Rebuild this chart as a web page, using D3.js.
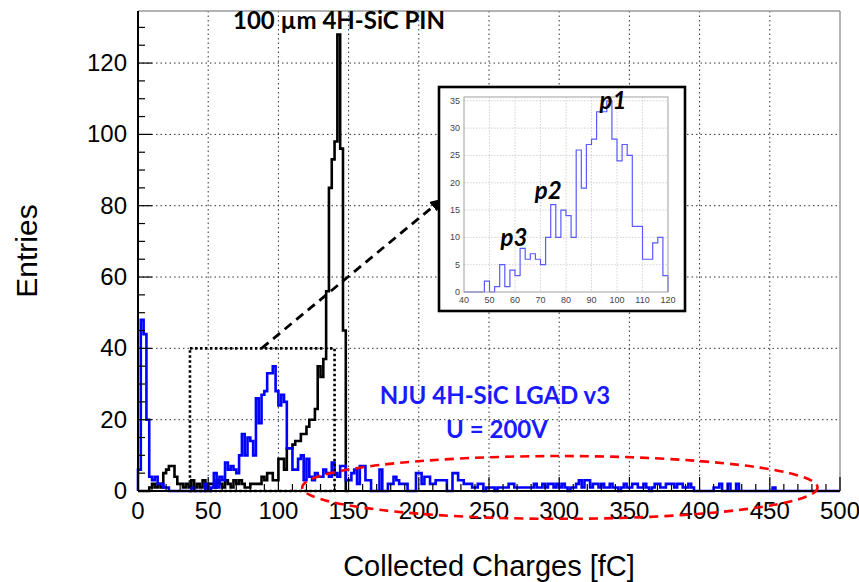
<!DOCTYPE html>
<html>
<head>
<meta charset="utf-8">
<script src="https://cdn.jsdelivr.net/npm/d3@7"></script>
<style>
  body { margin: 0; background: #fff; }
  svg { display: block; }
</style>
</head>
<body>
<div id="chart"></div>
<script>
// bin width of both histograms, in fC
const binWidth = 2;

// NJU 4H-SiC LGAD v3, U = 200V (blue), counts per 2 fC bin from 0 to 500 fC
const lgadCounts = [
  6, 48, 44, 20, 4, 3, 4, 2, 2, 1,
  1, 0, 0, 0, 0, 0, 0, 0, 0, 1,
  0, 0, 0, 0, 2, 0, 1, 5, 1, 4,
  3, 8, 6, 7, 6, 5, 10, 16, 10, 15,
  14, 10, 26, 19, 27, 28, 33, 33, 35, 28,
  24, 27, 25, 12, 12, 6, 6, 9, 10, 3,
  9, 4, 3, 5, 4, 4, 6, 5, 4, 8,
  5, 4, 7, 7, 3, 3, 5, 6, 2, 7,
  7, 3, 3, 0, 0, 0, 6, 0, 0, 2,
  2, 4, 3, 2, 2, 2, 0, 0, 0, 5,
  5, 2, 4, 4, 2, 2, 3, 3, 3, 3,
  0, 0, 5, 5, 3, 3, 2, 2, 2, 1,
  1, 2, 2, 0, 1, 1, 1, 0, 1, 1,
  1, 1, 2, 2, 1, 1, 1, 1, 1, 1,
  1, 2, 1, 1, 2, 1, 2, 2, 1, 2,
  1, 2, 1, 0, 1, 1, 2, 3, 1, 3,
  3, 1, 2, 2, 1, 2, 1, 1, 2, 1,
  1, 0, 1, 2, 1, 1, 2, 2, 1, 1,
  2, 1, 0, 1, 2, 2, 1, 1, 2, 2,
  2, 1, 2, 2, 1, 1, 2, 1, 0, 0,
  0, 0, 0, 0, 0, 1, 1, 2, 0, 0,
  2, 0, 0, 2, 0, 0, 0, 0, 0, 0,
  0, 0, 0, 0, 0, 0, 1, 0, 0, 0,
  0, 0, 0, 0, 0, 0, 0, 0, 0, 0,
  0, 0, 0, 0, 0, 0, 0, 0, 0, 0
];

// 100 um 4H-SiC PIN (black), counts per 2 fC bin from 0 to 150 fC
const pinCounts = [
  0, 0, 0, 0, 1, 2, 1, 2, 1, 5,
  6, 7, 7, 4, 2, 2, 1, 2, 1, 3,
  1, 2, 1, 3, 1, 2, 2, 1, 3, 2,
  1, 3, 2, 1, 3, 2, 3, 2, 1, 1,
  2, 2, 2, 2, 4, 3, 5, 5, 3, 3,
  9, 9, 6, 12, 12, 13, 14, 14, 16, 16,
  18, 20, 20, 23, 35, 32, 37, 56, 85, 93,
  98, 128, 96, 45, 0
];

const xTicks = [0, 50, 100, 150, 200, 250, 300, 350, 400, 450, 500];
const yTicks = [0, 20, 40, 60, 80, 100, 120];
const insetXTicks = [40, 50, 60, 70, 80, 90, 100, 110, 120];
const insetYTicks = [0, 5, 10, 15, 20, 25, 30, 35];
const insetRange = [40, 120];

// annotations, in data units of the main plot
const zoomBox = { x0: 37, x1: 140, y0: 0, y1: 40 };
const arrowFrom = [88, 40];
const arrowTo = [215.5, 81.5];
const ellipse = { cx: 300.5, cy: 1, rx: 183.5, ry: 8.8 };

const W = 859, H = 582;
const margin = { top: 11, right: 19, bottom: 91, left: 138 };
const width = W - margin.left - margin.right,
      height = H - margin.top - margin.bottom;

const svg = d3.select("#chart").append("svg")
    .attr("width", W).attr("height", H);

const defs = svg.append("defs");
defs.append("marker")
    .attr("id", "arrow")
    .attr("viewBox", "0 0 10 10")
    .attr("refX", 8).attr("refY", 5)
    .attr("markerWidth", 4.4).attr("markerHeight", 4.4)
    .attr("orient", "auto")
    .append("path")
    .attr("d", "M0,0 L10,5 L0,10 Z")
    .attr("fill", "#000");

const g = svg.append("g")
    .attr("transform", `translate(${margin.left}, ${margin.top})`);

const x = d3.scaleLinear().domain([0, 500]).range([0, width]);
const y = d3.scaleLinear().domain([0, 134.6]).range([height, 0]);

// grid
g.append("g").selectAll("line")
    .data(xTicks.slice(1, -1))
    .join("line")
    .attr("x1", d => x(d)).attr("x2", d => x(d))
    .attr("y1", 0).attr("y2", height)
    .attr("stroke", "#333").attr("stroke-width", 1)
    .attr("stroke-dasharray", "1.5,3");
g.append("g").selectAll("line")
    .data(yTicks.slice(1))
    .join("line")
    .attr("x1", 0).attr("x2", width)
    .attr("y1", d => y(d)).attr("y2", d => y(d))
    .attr("stroke", "#333").attr("stroke-width", 1)
    .attr("stroke-dasharray", "1.5,3");

// histogram outline as steps
const histPath = (counts, xs, ys, start) => {
    const pts = [[start, 0]];
    counts.forEach((c, i) => pts.push([start + i * binWidth, c]));
    pts.push([start + counts.length * binWidth, 0]);
    return d3.line()
        .x(d => xs(d[0]))
        .y(d => ys(d[1]))
        .curve(d3.curveStepAfter)(pts);
};

g.append("path")
    .attr("d", histPath(pinCounts, x, y, 0))
    .attr("fill", "none")
    .attr("stroke", "#000")
    .attr("stroke-width", 2.6);

g.append("path")
    .attr("d", histPath(lgadCounts, x, y, 0))
    .attr("fill", "none")
    .attr("stroke", "#0000ff")
    .attr("stroke-width", 2.6);

// frame
g.append("line").attr("x1", 0).attr("x2", width).attr("y1", 0).attr("y2", 0)
    .attr("stroke", "#999").attr("stroke-width", 1.5);
g.append("line").attr("x1", width).attr("x2", width).attr("y1", 0).attr("y2", height)
    .attr("stroke", "#999").attr("stroke-width", 1.5);

// axes with ticks pointing inwards
const xMinor = d3.range(0, 501, 10);
g.append("g").selectAll("line")
    .data(xMinor)
    .join("line")
    .attr("x1", d => x(d)).attr("x2", d => x(d))
    .attr("y1", height)
    .attr("y2", d => height - (d % 50 === 0 ? 14 : 7))
    .attr("stroke", "#000").attr("stroke-width", 1.2);
const yMinor = d3.range(0, 131, 5);
g.append("g").selectAll("line")
    .data(yMinor)
    .join("line")
    .attr("x1", 0)
    .attr("x2", d => (d % 20 === 0 ? 14 : 7))
    .attr("y1", d => y(d)).attr("y2", d => y(d))
    .attr("stroke", "#000").attr("stroke-width", 1.2);

g.append("line").attr("x1", 0).attr("x2", width).attr("y1", height).attr("y2", height)
    .attr("stroke", "#000").attr("stroke-width", 2);
g.append("line").attr("x1", 0).attr("x2", 0).attr("y1", 0).attr("y2", height)
    .attr("stroke", "#000").attr("stroke-width", 2);

const labelFont = "'Liberation Sans', Arial, sans-serif";
g.append("g").selectAll("text")
    .data(xTicks)
    .join("text")
    .attr("x", d => x(d))
    .attr("y", height + 28)
    .attr("text-anchor", "middle")
    .style("font-family", labelFont)
    .style("font-size", "24px")
    .text(d => d);
g.append("g").selectAll("text")
    .data(yTicks)
    .join("text")
    .attr("x", -11)
    .attr("y", d => y(d) + 8)
    .attr("text-anchor", "end")
    .style("font-family", labelFont)
    .style("font-size", "24px")
    .text(d => d);

svg.append("text")
    .attr("x", 489)
    .attr("y", 576)
    .attr("text-anchor", "middle")
    .style("font-family", labelFont)
    .style("font-size", "29px")
    .text("Collected Charges [fC]");
svg.append("text")
    .attr("transform", "translate(37, 251) rotate(-90)")
    .attr("text-anchor", "middle")
    .style("font-family", labelFont)
    .style("font-size", "30px")
    .text("Entries");

// dotted zoom box, arrow and red ellipse
g.append("rect")
    .attr("x", x(zoomBox.x0)).attr("y", y(zoomBox.y1))
    .attr("width", x(zoomBox.x1) - x(zoomBox.x0))
    .attr("height", y(zoomBox.y0) - y(zoomBox.y1))
    .attr("fill", "none")
    .attr("stroke", "#000").attr("stroke-width", 2.6)
    .attr("stroke-dasharray", "2.5,2.5");

g.append("line")
    .attr("x1", x(arrowFrom[0])).attr("y1", y(arrowFrom[1]))
    .attr("x2", x(arrowTo[0])).attr("y2", y(arrowTo[1]))
    .attr("stroke", "#000").attr("stroke-width", 2.8)
    .attr("stroke-dasharray", "9,6")
    .attr("marker-end", "url(#arrow)");

g.append("ellipse")
    .attr("cx", x(ellipse.cx)).attr("cy", y(ellipse.cy))
    .attr("rx", x(ellipse.rx) - x(0)).attr("ry", y(0) - y(ellipse.ry))
    .attr("fill", "none")
    .attr("stroke", "#ff0000").attr("stroke-width", 2.6)
    .attr("stroke-dasharray", "9,6");

// text annotations
const noteFont = "Lato, 'Open Sans', sans-serif";
svg.append("text")
    .attr("x", 339).attr("y", 29)
    .attr("text-anchor", "middle")
    .style("font-family", noteFont).style("font-weight", 700)
    .style("font-size", "24px")
    .text("100 µm 4H-SiC PIN");
svg.append("text")
    .attr("x", 495).attr("y", 404)
    .attr("text-anchor", "middle")
    .attr("fill", "#1a1aff")
    .style("font-family", noteFont).style("font-weight", 700)
    .style("font-size", "24px")
    .text("NJU 4H-SiC LGAD v3");
svg.append("text")
    .attr("x", 497).attr("y", 438)
    .attr("text-anchor", "middle")
    .attr("fill", "#1a1aff")
    .style("font-family", noteFont).style("font-weight", 700)
    .style("font-size", "24px")
    .text("U = 200V");

// inset: zoom on the LGAD peaks
const inset = { left: 439, top: 87, right: 685, bottom: 311 };
svg.append("rect")
    .attr("x", inset.left).attr("y", inset.top)
    .attr("width", inset.right - inset.left)
    .attr("height", inset.bottom - inset.top)
    .attr("fill", "#fff")
    .attr("stroke", "#000").attr("stroke-width", 2.6);

const ig = svg.append("g").attr("transform", "translate(464, 97)");
const iw = 204, ih = 195;
const ix = d3.scaleLinear().domain(insetRange).range([0, iw]);
const iy = d3.scaleLinear().domain([0, 35.7]).range([ih, 0]);

ig.append("g").selectAll("line")
    .data(insetXTicks.slice(1, -1))
    .join("line")
    .attr("x1", d => ix(d)).attr("x2", d => ix(d))
    .attr("y1", 0).attr("y2", ih)
    .attr("stroke", "#c8c8c8").attr("stroke-width", 0.8)
    .attr("stroke-dasharray", "1.5,1.5");
ig.append("g").selectAll("line")
    .data(insetYTicks.slice(1))
    .join("line")
    .attr("x1", 0).attr("x2", iw)
    .attr("y1", d => iy(d)).attr("y2", d => iy(d))
    .attr("stroke", "#c8c8c8").attr("stroke-width", 0.8)
    .attr("stroke-dasharray", "1.5,1.5");

const insetStart = insetRange[0] / binWidth;
const insetCounts = lgadCounts.slice(insetStart, insetRange[1] / binWidth);
ig.append("path")
    .attr("d", histPath(insetCounts, ix, iy, insetRange[0]))
    .attr("fill", "none")
    .attr("stroke", "#5a5aff")
    .attr("stroke-width", 1.2);

ig.append("rect")
    .attr("width", iw).attr("height", ih)
    .attr("fill", "none")
    .attr("stroke", "#a0a0a0").attr("stroke-width", 1);

ig.append("g").selectAll("text")
    .data(insetXTicks)
    .join("text")
    .attr("x", d => ix(d)).attr("y", ih + 11)
    .attr("text-anchor", "middle")
    .attr("fill", "#444")
    .style("font-family", labelFont).style("font-size", "9px")
    .text(d => d);
ig.append("g").selectAll("text")
    .data(insetYTicks)
    .join("text")
    .attr("x", -4).attr("y", d => iy(d) + 3)
    .attr("text-anchor", "end")
    .attr("fill", "#444")
    .style("font-family", labelFont).style("font-size", "9px")
    .text(d => d);

const peakLabels = [
  { name: "p1", x: 98.4, y: 33.5 },
  { name: "p2", x: 73, y: 17 },
  { name: "p3", x: 59.6, y: 8.4 }
];
ig.append("g").selectAll("text")
    .data(peakLabels)
    .join("text")
    .attr("x", d => ix(d.x)).attr("y", d => iy(d.y))
    .attr("text-anchor", "middle")
    .style("font-family", noteFont)
    .style("font-weight", 700).style("font-style", "italic")
    .style("font-size", "24px")
    .text(d => d.name);
</script>
</body>
</html>
